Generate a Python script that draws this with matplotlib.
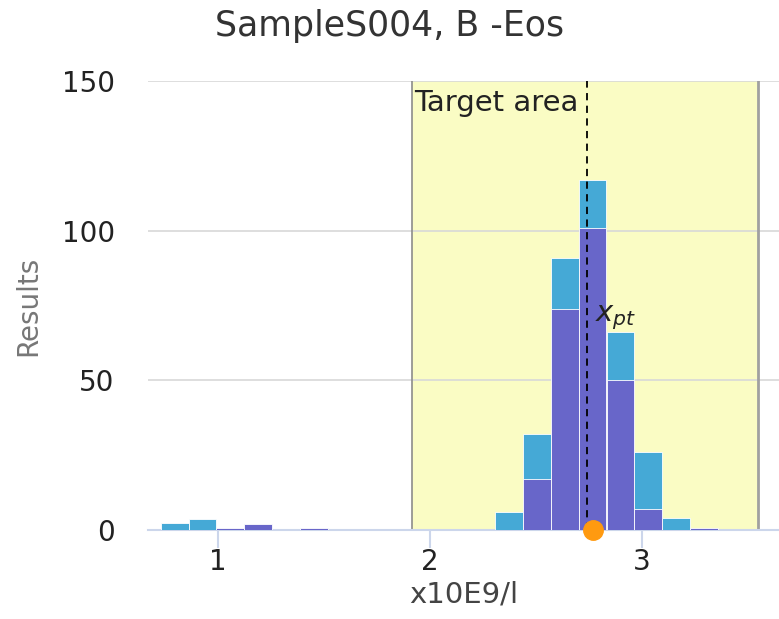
import matplotlib.pyplot as plt

# histogram bins (left edges, x10E9/l) and counts
bin_width = 0.1314
bin_left = [0.730, 0.861, 0.993, 1.124, 1.256, 1.387, 1.519, 1.650, 1.781,
            1.913, 2.044, 2.176, 2.307, 2.438, 2.570, 2.701, 2.833, 2.964,
            3.095, 3.227]
all_results = [2.5, 3.7, 0, 0, 0, 0, 0, 0, 0, 0, 0, 0, 6, 32, 91, 117, 66, 26, 4, 0]
sel_results = [0, 0, 0.5, 2, 0, 0.5, 0, 0, 0, 0, 0, 0, 0, 17, 74, 101, 50, 7, 0, 0.5]

target_lo, target_hi = 1.915, 3.547
median_line = 2.74
x_pt = 2.77

title = "SampleS004, B -Eos"
x_label = "x10E9/l"
y_label = "Results"

fig = plt.figure(figsize=(7.79, 6.19), dpi=100)
ax = fig.add_axes([0.19, 0.1438, 0.81, 0.7253])

ax.axvspan(target_lo, target_hi, color="#fafcc4", zorder=0)
ax.axvline(target_lo, color="#8c8c8c", lw=1.2, zorder=1)
ax.axvline(target_hi, color="#a0a0a0", lw=2, zorder=1)

ax.bar(bin_left, all_results, width=bin_width, align="edge",
       color="#45a9d6", edgecolor="white", linewidth=0.6, zorder=2)
ax.bar(bin_left, sel_results, width=bin_width, align="edge",
       color="#6866c9", edgecolor="white", linewidth=0.6, zorder=3)

ax.axvline(median_line, color="black", lw=1.3, ls=(0, (4, 3)), zorder=4)
ax.plot([x_pt], [0], "o", color="#ff9a10", ms=14, clip_on=False, zorder=6)

ax.text(target_lo + 0.012, 147.5, "Target area", fontsize=21, color="#222222",
        va="top", ha="left", zorder=5)
ax.text(median_line + 0.04, 71, r"$x_{pt}$", fontsize=21, color="#222222",
        va="center", ha="left", zorder=5)

ax.set_xlim(0.67, 3.646)
ax.set_ylim(0, 150)
ax.set_yticks([0, 50, 100, 150])
ax.set_xticks([1, 2, 3])
ax.yaxis.grid(True, color="#d8d8d8", lw=1.2)
ax.set_axisbelow(True)
for s in ["left", "right", "top"]:
    ax.spines[s].set_visible(False)
ax.spines["bottom"].set_color("#ccd6eb")
ax.spines["bottom"].set_linewidth(1.5)
ax.spines["bottom"].set_zorder(1.5)
ax.tick_params(axis="y", length=0, pad=24, labelsize=20, labelcolor="#222222")
ax.tick_params(axis="x", length=13, width=1.5, color="#ccd6eb", pad=0,
               labelsize=20, labelcolor="#222222")

ax.set_xlabel(x_label, fontsize=21, color="#444444", labelpad=3)
ax.set_ylabel(y_label, fontsize=20, color="#777777", labelpad=14)
fig.suptitle(title, fontsize=25, color="#333333", y=0.985)

fig.savefig("out.png", dpi=100)
